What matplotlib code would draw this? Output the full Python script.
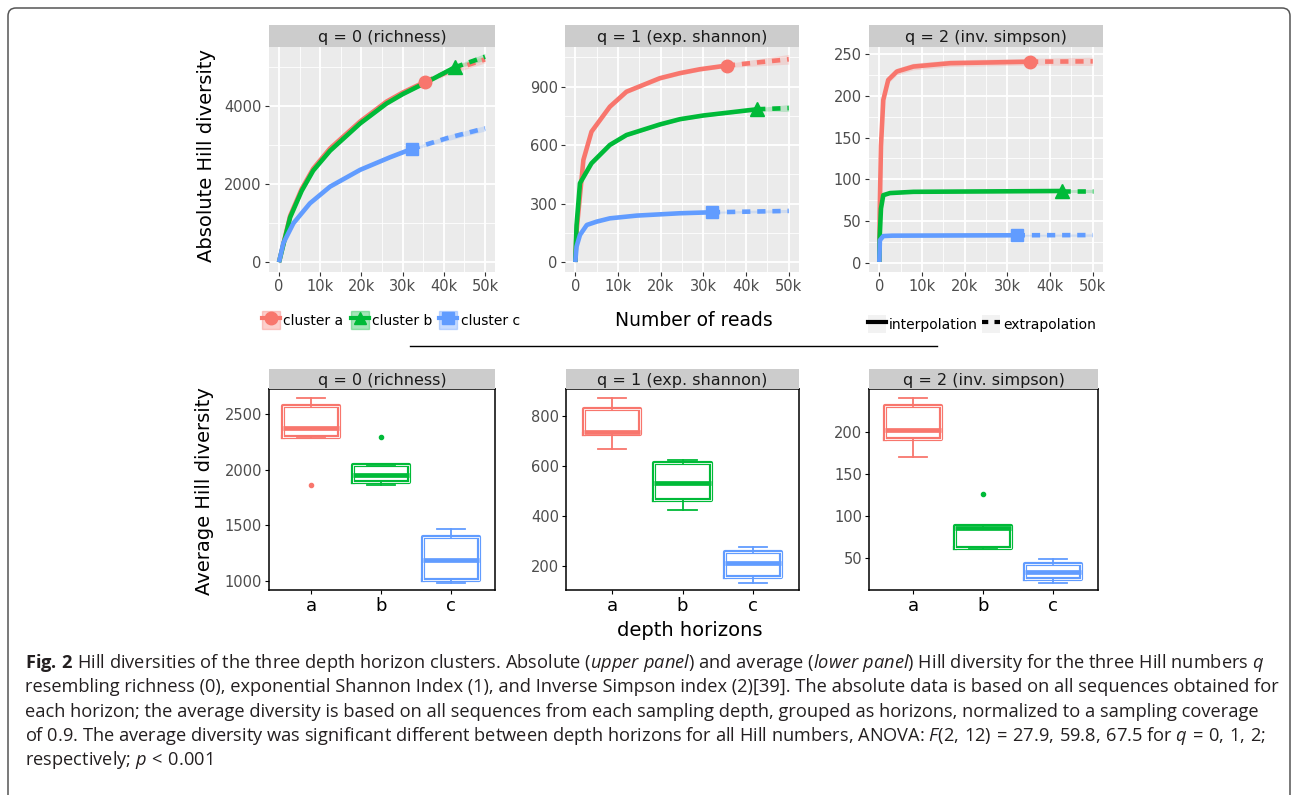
import matplotlib
matplotlib.use('Agg')
import matplotlib.pyplot as plt
from matplotlib.lines import Line2D
from matplotlib.patches import Patch, FancyBboxPatch
from matplotlib.transforms import IdentityTransform
import matplotlib.patheffects as pe

# colours of the three clusters (ggplot defaults)
cols = ['#F8766D', '#00BA38', '#619CFF']
marks = ['o', '^', 's']
cluster_names = ['cluster a', 'cluster b', 'cluster c']

# ---- upper panel: rarefaction / extrapolation curves ----
top_titles = ['q = 0 (richness)', 'q = 1 (exp. shannon)', 'q = 2 (inv. simpson)']
top_xticks = [0, 10000, 20000, 30000, 40000, 50000]
top_xticklabels = ['0', '10k', '20k', '30k', '40k', '50k']
top_yticks = [[0, 2000, 4000], [0, 300, 600, 900], [0, 50, 100, 150, 200, 250]]
top_yminor = [[1000, 3000, 5000], [150, 450, 750, 1050], [25, 75, 125, 175, 225]]
top_ylims = [(-250, 5520), (-50, 1103), (-11, 258.4)]

# q = 0
q0_a_x = [1, 2700, 5500, 8300, 12400, 19700, 26100, 30000, 35500]
q0_a_y = [1, 1190, 1880, 2400, 2920, 3610, 4120, 4350, 4630]
q0_a_ex = [35500, 42000, 50000]
q0_a_ey = [4630, 4930, 5200]
q0_b_x = [1, 2700, 5500, 8300, 12400, 19700, 26100, 30000, 35500, 42700]
q0_b_y = [1, 1150, 1830, 2350, 2860, 3560, 4070, 4310, 4600, 5000]
q0_b_ex = [42700, 50000]
q0_b_ey = [5000, 5270]
q0_c_x = [1, 1050, 3500, 7500, 12400, 19700, 26900, 32200]
q0_c_y = [1, 490, 1000, 1510, 1940, 2370, 2690, 2905]
q0_c_ex = [32200, 41000, 50000]
q0_c_ey = [2905, 3190, 3435]

# q = 1
q1_a_x = [1, 330, 1900, 3800, 8100, 12000, 19800, 24500, 29200, 35500]
q1_a_y = [1, 166, 524, 669, 797, 874, 943, 969, 989, 1008]
q1_a_ex = [35500, 50000]
q1_a_ey = [1008, 1040]
q1_b_x = [1, 300, 1100, 3800, 8100, 12000, 19800, 24500, 30000, 42600]
q1_b_y = [1, 190, 405, 507, 601, 652, 706, 733, 752, 784]
q1_b_ex = [42600, 50000]
q1_b_ey = [784, 790]
q1_c_x = [1, 300, 1100, 2700, 5000, 8100, 14400, 24500, 32000]
q1_c_y = [1, 80, 140, 191, 208, 225, 239, 251, 256]
q1_c_ex = [32000, 50000]
q1_c_ey = [256, 263]

# q = 2
q2_a_x = [1, 100, 400, 940, 2100, 4100, 8000, 16600, 35300]
q2_a_y = [1, 60, 140, 195, 219, 229, 235, 239, 240.8]
q2_a_ex = [35300, 50000]
q2_a_ey = [240.8, 241.2]
q2_b_x = [1, 100, 400, 940, 2500, 8000, 42700]
q2_b_y = [1, 31, 65, 81, 83.5, 85, 86]
q2_b_ex = [42700, 50000]
q2_b_ey = [86, 86]
q2_c_x = [1, 150, 940, 3000, 32200]
q2_c_y = [1, 27, 32, 32.5, 33]
q2_c_ex = [32200, 50000]
q2_c_ey = [33, 33.2]

# half width of the confidence band (interpolated part, end of extrapolation)
q0_band = [(40, 90), (40, 90), (30, 70)]
q1_band = [(10, 25), (8, 18), (5, 8)]
q2_band = [(4, 5), (1.5, 2), (1, 1.5)]

top_data = [
    [(q0_a_x, q0_a_y, q0_a_ex, q0_a_ey), (q0_b_x, q0_b_y, q0_b_ex, q0_b_ey), (q0_c_x, q0_c_y, q0_c_ex, q0_c_ey)],
    [(q1_a_x, q1_a_y, q1_a_ex, q1_a_ey), (q1_b_x, q1_b_y, q1_b_ex, q1_b_ey), (q1_c_x, q1_c_y, q1_c_ex, q1_c_ey)],
    [(q2_a_x, q2_a_y, q2_a_ex, q2_a_ey), (q2_b_x, q2_b_y, q2_b_ex, q2_b_ey), (q2_c_x, q2_c_y, q2_c_ex, q2_c_ey)],
]
top_bands = [q0_band, q1_band, q2_band]

# ---- lower panel: boxplots of average diversity ----
groups = ['a', 'b', 'c']
# whisker low, Q1, median, Q3, whisker high, outliers
box_q0 = [(2290, 2293, 2374, 2577, 2650, [1860]),
          (1864, 1888, 1954, 2044, 2048, [2295]),
          (985, 1012, 1190, 1399, 1465, [])]
box_q1 = [(666, 728, 737, 827, 873, []),
          (423, 463, 532, 611, 624, []),
          (132, 156, 210, 254, 274, [])]
box_q2 = [(170, 192, 202, 231, 240.5, []),
          (61, 62, 85, 88, 88.5, [126]),
          (20, 24.5, 33, 43, 48, [])]
box_yticks = [[1000, 1500, 2000, 2500], [200, 400, 600, 800], [50, 100, 150, 200]]
box_ylims = [(919, 2728), (102, 908), (11.6, 251)]

caption_lines = [
    r"$\mathbf{Fig.\,2}$ Hill diversities of the three depth horizon clusters. Absolute ($\mathit{upper\ panel}$) and average ($\mathit{lower\ panel}$) Hill diversity for the three Hill numbers $\mathit{q}$",
    "resembling richness (0), exponential Shannon Index (1), and Inverse Simpson index (2)[39]. The absolute data is based on all sequences obtained for",
    "each horizon; the average diversity is based on all sequences from each sampling depth, grouped as horizons, normalized to a sampling coverage",
    r"of 0.9. The average diversity was significant different between depth horizons for all Hill numbers, ANOVA: $F(2,\,12)\,=\,27.9,\,59.8,\,67.5$ for $q\,=\,0,\,1,\,2$;",
    r"respectively; $p\,<\,0.001$",
]

cap_font = 'Open Sans'
plt.rcParams['font.family'] = 'DejaVu Sans'
plt.rcParams['mathtext.fontset'] = 'custom'
plt.rcParams['mathtext.rm'] = cap_font
plt.rcParams['mathtext.it'] = cap_font + ':italic'
plt.rcParams['mathtext.bf'] = cap_font + ':bold'

W, H = 1295, 795
fig = plt.figure(figsize=(W / 100, H / 100), dpi=100)


def px_axes(x0, y0, x1, y1):
    return fig.add_axes([x0 / W, 1 - y1 / H, (x1 - x0) / W, (y1 - y0) / H])


def strip(x0, x1, y0, y1, label):
    s = px_axes(x0, y0, x1, y1)
    s.set_facecolor('#CCCCCC')
    s.set_xticks([])
    s.set_yticks([])
    for sp in s.spines.values():
        sp.set_visible(False)
    s.text(0.5, 0.45, label, ha='center', va='center', fontsize=11.5, color='#1A1A1A')


# upper panels
top_boxes = [(268.7, 495.3), (564.6, 799.4), (868.6, 1103.4)]
for k in range(3):
    x0, x1 = top_boxes[k]
    ax = px_axes(x0, 47, x1, 272)
    strip(x0, x1, 25, 47, top_titles[k])
    ax.set_facecolor('#EBEBEB')
    for sp in ax.spines.values():
        sp.set_visible(False)
    ax.set_xlim(-2500, 52500)
    ax.set_ylim(*top_ylims[k])
    ax.set_xticks(top_xticks)
    ax.set_xticklabels(top_xticklabels)
    ax.set_xticks([5000, 15000, 25000, 35000, 45000], minor=True)
    ax.set_yticks(top_yticks[k])
    ax.set_yticks(top_yminor[k], minor=True)
    ax.grid(True, which='major', color='white', lw=1.3)
    ax.grid(True, which='minor', color='white', lw=0.6)
    ax.set_axisbelow(True)
    ax.tick_params(which='major', length=3, width=0.8, color='#333333',
                   labelsize=10.5, labelcolor='#4D4D4D', pad=2)
    ax.tick_params(which='minor', length=0)
    for i in range(3):
        xs, ys, ex, ey = top_data[k][i]
        b_in, b_out = top_bands[k][i]
        ax.fill_between(xs, [v - b_in for v in ys], [v + b_in for v in ys],
                        color=cols[i], alpha=0.2, lw=0)
        ax.fill_between(ex, [ey[0] - b_in] + [v - b_out for v in ey[1:]],
                        [ey[0] + b_in] + [v + b_out for v in ey[1:]],
                        color=cols[i], alpha=0.2, lw=0)
    for i in range(3):
        xs, ys, ex, ey = top_data[k][i]
        ax.plot(xs, ys, color=cols[i], lw=3.3, solid_capstyle='butt')
        ax.plot(ex, ey, color=cols[i], lw=3.3, ls=(0, (1.8, 1.5)))
    for i in range(3):
        xs, ys, ex, ey = top_data[k][i]
        ax.plot(xs[-1], ys[-1], marker=marks[i], color=cols[i],
                ms=10.5 if marks[i] == '^' else 9, mec=cols[i])

# lower panels
bot_boxes = [(269, 495, 0.4, 3.63), (566, 799, 0.336, 3.664), (869, 1098, 0.366, 3.643)]
bot_data = [box_q0, box_q1, box_q2]
for k in range(3):
    x0, x1, lo, hi = bot_boxes[k]
    ax = px_axes(x0, 389, x1, 590)
    strip(x0, x1, 369, 389, top_titles[k])
    ax.set_facecolor('white')
    for sp in ax.spines.values():
        sp.set_color('black')
        sp.set_linewidth(1.1)
    for i in range(3):
        wl, q1, med, q3, wh, fl = bot_data[k][i]
        stats = [dict(whislo=wl, q1=q1, med=med, q3=q3, whishi=wh, fliers=fl)]
        c = cols[i]
        ax.bxp(stats, positions=[i + 1], widths=0.8, capwidths=0.4,
               boxprops=dict(color='white', lw=0.6,
                             path_effects=[pe.withStroke(linewidth=3.0, foreground=c)]),
               medianprops=dict(color=c, lw=3.4, solid_capstyle='butt'),
               whiskerprops=dict(color=c, lw=1.3),
               capprops=dict(color=c, lw=1.3),
               flierprops=dict(marker='o', ms=3, mfc=c, mec=c))
    ax.set_xlim(lo, hi)
    ax.set_ylim(*box_ylims[k])
    ax.set_xticks([1, 2, 3])
    ax.set_xticklabels(groups)
    ax.set_yticks(box_yticks[k])
    ax.tick_params(axis='x', length=3, width=0.8, labelsize=13, labelcolor='black', pad=2)
    ax.tick_params(axis='y', length=3, width=0.8, labelsize=10.5, labelcolor='#4D4D4D', pad=2)

# axis titles
fig.text(207 / W, 1 - 155 / H, 'Absolute Hill diversity', rotation=90,
         ha='center', va='center', fontsize=14)
fig.text(694 / W, 1 - 320 / H, 'Number of reads', ha='center', va='center', fontsize=13.5)
fig.text(205 / W, 1 - 491 / H, 'Average Hill diversity', rotation=90,
         ha='center', va='center', fontsize=14)
fig.text(690 / W, 1 - 630 / H, 'depth horizons', ha='center', va='center', fontsize=14)

# legends
h1 = [(Patch(facecolor=c, alpha=0.35, edgecolor=c, lw=1),
       Line2D([], [], color=c, lw=3, marker=m, ms=9))
      for c, m in zip(cols, marks)]
fig.legend(h1, cluster_names, loc='center', bbox_to_anchor=(391 / W, 1 - 320 / H),
           ncol=3, frameon=False, fontsize=10, handlelength=1.3, handleheight=1.6,
           handletextpad=0.25, columnspacing=0.5, borderpad=0)
h2 = [(Patch(facecolor='#F2F2F2', edgecolor='none'), Line2D([], [], color='black', lw=3)),
      (Patch(facecolor='#F2F2F2', edgecolor='none'), Line2D([], [], color='black', lw=3, ls=(0, (1.5, 1.5))))]
fig.legend(h2, ['interpolation', 'extrapolation'], loc='center',
           bbox_to_anchor=(982 / W, 1 - 324 / H), ncol=2, frameon=False, fontsize=10,
           handlelength=1.3, handleheight=1.6, handletextpad=0.25, columnspacing=0.3,
           borderpad=0)

# separator line between the two panels
fig.add_artist(Line2D([410 / W, 937 / W], [1 - 346 / H, 1 - 346 / H], color='black', lw=1))

# caption
for j, line in enumerate(caption_lines):
    fig.text(25 / W, 1 - (668 + 24.3 * j) / H, line, ha='left', va='baseline',
             fontsize=13.15, family=cap_font, color='#231F20')

# frame around the figure
frame = FancyBboxPatch((8, -30), 1282, H - 8 + 30, boxstyle='round,pad=0,rounding_size=8',
                       transform=IdentityTransform(), fill=False, ec='#555555', lw=1.1)
fig.add_artist(frame)

fig.savefig('out.png', dpi=100, facecolor='white')
